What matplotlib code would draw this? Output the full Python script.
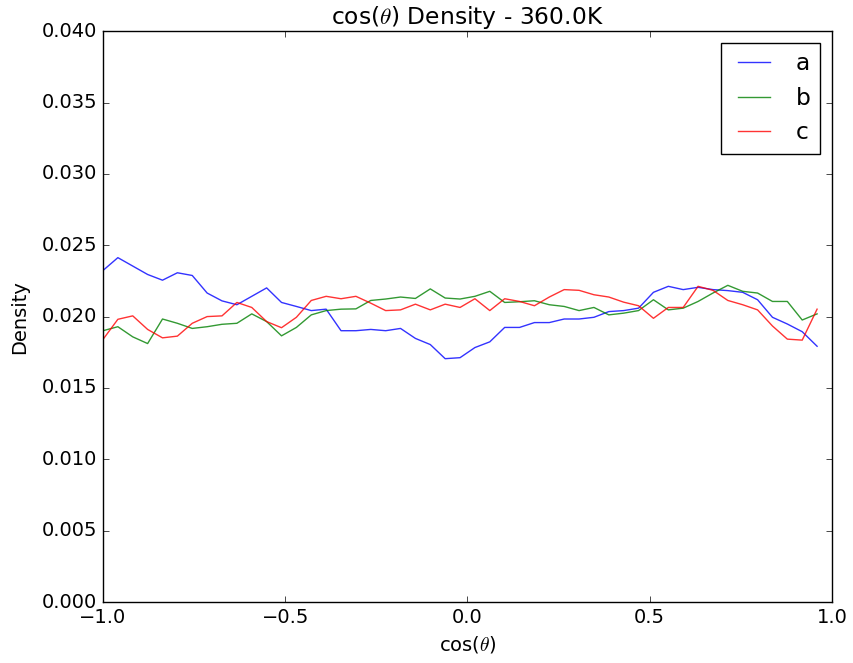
import numpy as np
import matplotlib
matplotlib.use("Agg")
import matplotlib.pyplot as plt

plt.style.use("classic")
plt.rcParams["font.size"] = 14

# Histogram bin left edges for cos(theta)
edges = np.linspace(-1.0, 1.0, 50)
cos_theta = edges[:-1]

density_a = [
    0.02323, 0.02413, 0.02354, 0.02295, 0.02255, 0.02307, 0.02288, 0.02165,
    0.02110, 0.02083, 0.02142, 0.02201, 0.02099, 0.02071, 0.02042, 0.02052,
    0.01901, 0.01901, 0.01910, 0.01901, 0.01917, 0.01847, 0.01804, 0.01705,
    0.01712, 0.01783, 0.01823, 0.01924, 0.01924, 0.01958, 0.01958, 0.01983,
    0.01983, 0.01995, 0.02035, 0.02042, 0.02059, 0.02170, 0.02212, 0.02189,
    0.02205, 0.02189, 0.02182, 0.02170, 0.02118, 0.01995, 0.01948, 0.01894,
    0.01792,
]
density_b = [
    0.01901, 0.01929, 0.01858, 0.01811, 0.01983, 0.01953, 0.01917, 0.01929,
    0.01946, 0.01953, 0.02019, 0.01965, 0.01865, 0.01924, 0.02012, 0.02042,
    0.02052, 0.02054, 0.02113, 0.02123, 0.02137, 0.02127, 0.02194, 0.02130,
    0.02123, 0.02142, 0.02177, 0.02099, 0.02104, 0.02111, 0.02083, 0.02071,
    0.02042, 0.02064, 0.02012, 0.02024, 0.02042, 0.02118, 0.02047, 0.02059,
    0.02106, 0.02165, 0.02219, 0.02177, 0.02165, 0.02106, 0.02106, 0.01976,
    0.02019,
]
density_c = [
    0.01840, 0.01981, 0.02005, 0.01910, 0.01851, 0.01863, 0.01953, 0.02000,
    0.02005, 0.02099, 0.02064, 0.01965, 0.01922, 0.01995, 0.02113, 0.02142,
    0.02125, 0.02142, 0.02094, 0.02042, 0.02047, 0.02087, 0.02047, 0.02087,
    0.02064, 0.02125, 0.02042, 0.02125, 0.02106, 0.02076, 0.02137, 0.02189,
    0.02184, 0.02153, 0.02137, 0.02101, 0.02076, 0.01988, 0.02064, 0.02064,
    0.02212, 0.02184, 0.02113, 0.02083, 0.02047, 0.01934, 0.01842, 0.01835,
    0.02052,
]
series_labels = ["a", "b", "c"]

fig = plt.figure(figsize=(8.54, 6.63), dpi=100)
ax = fig.add_axes([0.1206, 0.092, 0.8536, 0.861])

for vals, lab, col in zip([density_a, density_b, density_c], series_labels,
                          ["b", "g", "r"]):
    ax.plot(cos_theta, vals, color=col, label=lab, alpha=0.8)

ax.set_xlim(-1.0, 1.0)
ax.set_ylim(0.0, 0.040)
ax.set_yticks(np.arange(0, 0.0401, 0.005))
ax.set_xticks([-1.0, -0.5, 0.0, 0.5, 1.0])
ax.yaxis.set_major_formatter(matplotlib.ticker.FormatStrFormatter("%.3f"))
ax.set_xlabel(r"cos($\theta$)")
ax.set_ylabel("Density", labelpad=9)
ax.set_title(r"cos($\theta$) Density - 360.0K")
ax.legend(loc="upper right")

fig.savefig("out.png", dpi=100, facecolor="white")
